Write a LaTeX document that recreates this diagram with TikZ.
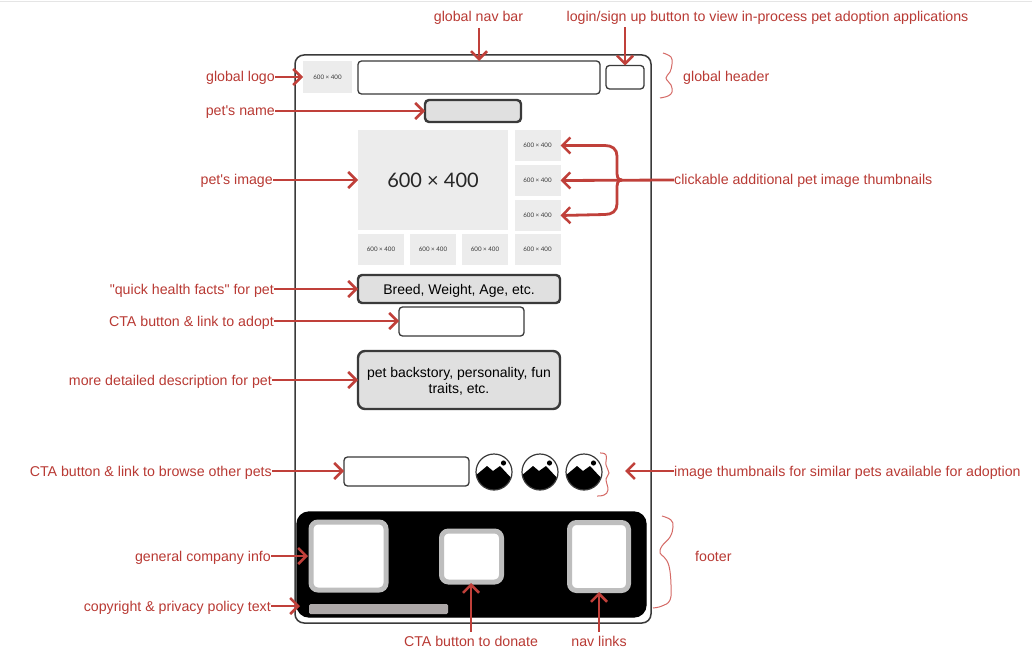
\documentclass[tikz,border=0pt]{standalone}
\usepackage{fontspec}
\setmainfont{Liberation Sans}
\newfontfamily\rawfont{Liberation Sans}
\newfontfamily\latofont{Lato}
\usetikzlibrary{arrows.meta}
\definecolor{redA}{HTML}{C0403A}
\definecolor{redT}{HTML}{B93A34}
\definecolor{redB}{HTML}{D56A66}
\definecolor{ink}{HTML}{3A3A3A}
\definecolor{ph}{HTML}{ECECEC}
\definecolor{footgray}{HTML}{BEBEBE}
\definecolor{bargray}{HTML}{ADA8A8}
\tikzset{
  x=1pt,y=-1pt,
  lab/.style={text=redT,inner sep=0pt,text height=10pt,text depth=0pt,font=\rawfont\fontsize{14.2}{17}\selectfont},
  labr/.style={lab,anchor=east},
  labl/.style={lab,anchor=west},
  labc/.style={lab,anchor=center},
  arr/.style={draw=redA,line width=2.8pt,-{Straight Barb[length=8pt,width=16pt,line width=2.5pt]}},
  brc/.style={draw=redB,line width=1pt},
  phbox/.style={fill=ph,inner sep=0pt,outer sep=0pt,anchor=north west,text=ink,font=\latofont\fontsize{6.2}{7}\selectfont},
  phbig/.style={phbox,text=black!85,font=\latofont\fontsize{20}{24}\selectfont},
  wire/.style={draw=ink,fill=white,line width=1.3pt,rounded corners=3.5pt,inner sep=0pt,outer sep=0pt,anchor=north west},
  heavy/.style={draw=ink,fill=black!12,line width=2.4pt,rounded corners=4pt,inner sep=0pt,outer sep=0pt,anchor=north west,text=black,font=\rawfont\fontsize{14}{16}\selectfont,align=center},
  footbox/.style={draw=footgray,fill=white,line width=5pt,rounded corners=7pt,inner sep=0pt,outer sep=0pt,anchor=north west},
  mount/.pic={
    \begin{scope}
      \clip (0,0) circle (18);
      \fill[white] (0,0) circle (18);
      \fill[black] (-19,4) -- (-7,-6) -- (-1,-1) -- (6,-6) -- (19,8) -- (19,19) -- (-19,19) -- cycle;
      \fill[black] (9.5,-9) circle (2.6);
    \end{scope}
    \draw[ink,line width=1.2pt] (0,0) circle (18);
  }
}
\begin{document}
\begin{tikzpicture}
\useasboundingbox (0,0) rectangle (1032,652);
\fill[white] (0,0) rectangle (1032,652);
\draw[black!10,line width=1pt] (0,2) -- (1032,2);

% frame and page content
\node[wire,line width=1.5pt,rounded corners=9pt,fill=white,minimum width=356pt,minimum height=568pt] (frame) at (295,55) {};
\node[phbox,minimum width=49pt,minimum height=32pt] (logo) at (303,61) {600 × 400};
\node[wire,minimum width=242pt,minimum height=33pt] (nav) at (358,61) {};
\node[wire,minimum width=38pt,minimum height=23.5pt] (login) at (606,65.5) {};
\node[heavy,minimum width=96pt,minimum height=22pt] (petname) at (425,100) {};
\node[phbig,minimum width=150pt,minimum height=100pt] (bigimg) at (358,130) {600 × 400};
\node[phbox,minimum width=46pt,minimum height=31pt] (tA) at (514.5,130) {600 × 400};
\node[phbox,minimum width=46pt,minimum height=31pt] (tB) at (514.5,165) {600 × 400};
\node[phbox,minimum width=46pt,minimum height=31pt] (tC) at (514.5,200) {600 × 400};
\node[phbox,minimum width=46pt,minimum height=31pt] (bA) at (358,234) {600 × 400};
\node[phbox,minimum width=46pt,minimum height=31pt] (bB) at (410,234) {600 × 400};
\node[phbox,minimum width=46pt,minimum height=31pt] (bC) at (462,234) {600 × 400};
\node[phbox,minimum width=46pt,minimum height=31pt] (bD) at (514.5,234) {600 × 400};
\node[heavy,minimum width=202pt,minimum height=28pt,text height=10pt,text depth=0pt] (facts) at (358,275) {Breed, Weight, Age, etc.};
\node[wire,minimum width=125pt,minimum height=29pt] (adopt) at (399,307) {};
\node[heavy,rounded corners=7pt,minimum width=202pt,minimum height=58pt,text height=26pt,text depth=0pt] (desc) at (358,351) {pet backstory, personality, fun\\traits, etc.};
\node[wire,minimum width=125pt,minimum height=29pt] (browse) at (344,457) {};
\pic at (494,472) {mount};
\pic at (540,472) {mount};
\pic at (584,472) {mount};
\node[wire,draw=black,fill=black,rounded corners=12pt,minimum width=349pt,minimum height=105pt] (footer) at (297,512) {};
\node[footbox,minimum width=75pt,minimum height=68pt] (info) at (311,522) {};
\node[footbox,minimum width=60pt,minimum height=51pt] (donate) at (441.5,531) {};
\node[footbox,minimum width=59pt,minimum height=68pt] (links) at (569.5,522.5) {};
\node[fill=bargray,draw=none,rounded corners=1.5pt,inner sep=0pt,outer sep=0pt,anchor=north west,minimum width=139pt,minimum height=10pt] (bar) at (309,604) {};

% labels
\node[labc] (lNav) at (478.5,17) {global nav bar};
\node[labc] (lLogin) at (767.5,17) {login/sign up button to view in-process pet adoption applications};
\node[labr] (lLogo) at (275,77) {global logo};
\node[labl] (lHead) at (683,77) {global header};
\node[labr] (lName) at (275,111) {pet's name};
\node[labr] (lImg) at (273,180) {pet's image};
\node[labl] (lThumb) at (674,180) {clickable additional pet image thumbnails};
\node[labr] (lFacts) at (274,289) {"quick health facts" for pet};
\node[labr] (lAdopt) at (274,321) {CTA button \& link to adopt};
\node[labr] (lDesc) at (272,380) {more detailed description for pet};
\node[labr] (lBrowse) at (272,471) {CTA button \& link to browse other pets};
\node[labl] (lSim) at (674,471) {image thumbnails for similar pets available for adoption};
\node[labl] (lFoot) at (695,556) {footer};
\node[labr] (lInfo) at (271,556) {general company info};
\node[labr] (lCopy) at (271,606) {copyright \& privacy policy text};
\node[labc] (lDon) at (471,641) {CTA button to donate};
\node[labc] (lLinks) at (599,641) {nav links};

% connectors
\coordinate (navIn) at (479,61);
\draw[arr] (nav.north -| navIn) ++(0,-33) -- (nav.north -| navIn);
\draw[arr] (login.north) ++(0,-38) -- (login.north);
\draw[arr] (lLogo.east) -- (logo.west);
\draw[arr] (lName.east) -- (lName.east -| petname.west);
\draw[arr] (lImg.east) -- (lImg.east -| bigimg.west);
\draw[arr] (lThumb.west) -- (tB.east);
\coordinate (junc) at (622,180);
\draw[arr] (junc) .. controls (617,180) and (617,176) .. (617,170) -- (617,156) .. controls (617,149) and (612,145.5) .. (605,145.5) -- (tA.east);
\draw[arr] (junc) .. controls (617,180) and (617,184) .. (617,190) -- (617,204) .. controls (617,211) and (612,214.5) .. (605,214.5) -- (tC.east);
\draw[arr] (lFacts.east) -- (lFacts.east -| facts.west);
\draw[arr] (lAdopt.east) -- (lAdopt.east -| adopt.west);
\draw[arr] (lDesc.east) -- (lDesc.east -| desc.west);
\draw[arr] (lBrowse.east) -- (lBrowse.east -| browse.west);
\coordinate (simEnd) at (625,471);
\draw[arr] (lSim.west) -- (simEnd);
\coordinate (infoEnd) at (308,556);
\draw[arr] (lInfo.east) -- (infoEnd);
\coordinate (copyEnd) at (300,606);
\draw[arr] (lCopy.east) -- (copyEnd);
\coordinate (donEnd) at (471,583);
\draw[arr] (lDon.north) ++(0,-4) -- (donEnd);
\coordinate (linkEnd) at (599,592);
\draw[arr] (lLinks.north) ++(0,-4) -- (linkEnd);

% hand-drawn braces
\draw[brc] plot[smooth,tension=0.7] coordinates {(663,53) (671,57) (672,64) (670,72) (666,78) (671,85) (672,92) (668,96) (660,98)};
\draw[brc] plot[smooth,tension=0.7] coordinates {(662,516) (671,520) (673,527) (670,537) (662,546) (660,553) (664,557) (669,566) (671,585) (670,600) (662,606) (653,608)};
\draw[brc] plot[smooth,tension=0.7] coordinates {(600,453) (606,455) (606,465) (609,473) (606,479) (608,490) (604,495) (597,496)};
\end{tikzpicture}
\end{document}
